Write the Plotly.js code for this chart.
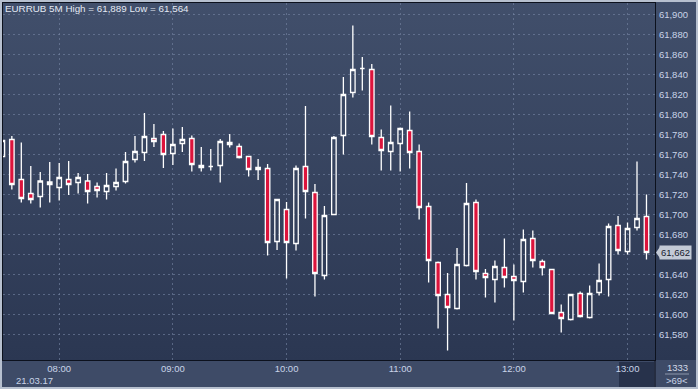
<!DOCTYPE html>
<html>
<head>
<meta charset="utf-8">
<script src="https://cdn.plot.ly/plotly-3.0.1.min.js"></script>
<style>
  html, body { margin: 0; padding: 0; background: #b7c0cf; }
  #wrap { position: relative; width: 698px; height: 389px; background: #b7c0cf; overflow: hidden; }
  #bg { position: absolute; left: 2px; top: 2px; width: 694px; height: 385px;
        background: linear-gradient(to bottom, #414f6b 0%, #2b3752 93%, #2b3752 100%); }
  #chart { position: absolute; left: 0; top: 0; width: 698px; height: 389px; }
</style>
</head>
<body>
<div id="wrap"><div id="bg"></div><div id="chart"></div></div>
<script>
// 5-minute candle times, 21.03.2017
const times = [
  "07:30","07:35","07:40","07:45","07:50","07:55",
  "08:00","08:05","08:10","08:15","08:20","08:25","08:30","08:35","08:40","08:45","08:50","08:55",
  "09:00","09:05","09:10","09:15","09:20","09:25","09:30","09:35","09:40","09:45","09:50","09:55",
  "10:00","10:05","10:10","10:15","10:20","10:25","10:30","10:35","10:40","10:45","10:50","10:55",
  "11:00","11:05","11:10","11:15","11:20","11:25","11:30","11:35","11:40","11:45","11:50","11:55",
  "12:00","12:05","12:10","12:15","12:20","12:25","12:30","12:35","12:40","12:45","12:50","12:55",
  "13:00","13:05","13:10"
];
const openVals = [
  61.758,61.775,61.735,61.721,61.718,61.7325,
  61.727,61.735,61.732,61.7335,61.728,61.723,61.728,61.733,61.755,61.762,61.776,61.780,
  61.761,61.771,61.776,61.749,61.748,61.749,61.772,61.768,61.758,61.747,61.746,61.673,
  61.705,61.671,61.748,61.722,61.639,61.700,61.779,61.822,61.846,61.845,61.777,61.763,
  61.771,61.784,61.763,61.708,61.652,61.620,61.606,61.649,61.712,61.641,61.635,61.647,
  61.638,61.633,61.676,61.653,61.645,61.602,61.595,61.621,61.597,61.622,61.635,61.689,
  61.663,61.687,61.698
];
const highVals = [
  61.778,61.7785,61.772,61.7485,61.7425,61.7525,
  61.7515,61.7535,61.7415,61.7405,61.732,61.7415,61.746,61.7625,61.7785,61.8015,61.7905,61.7835,
  61.786,61.7875,61.779,61.7675,61.7655,61.7755,61.7805,61.771,61.7585,61.7555,61.7505,61.7155,
  61.7125,61.749,61.8085,61.7305,61.7085,61.7785,61.8375,61.889,61.8575,61.8505,61.785,61.809,
  61.787,61.803,61.770,61.712,61.653,61.6415,61.6665,61.7315,61.715,61.6455,61.654,61.676,
  61.650,61.685,61.684,61.655,61.6455,61.610,61.6205,61.623,61.629,61.651,61.691,61.6985,
  61.692,61.753,61.720
];
const lowVals = [
  61.755,61.725,61.712,61.711,61.707,61.712,
  61.714,61.7195,61.721,61.711,61.717,61.715,61.724,61.731,61.752,61.7535,61.7675,61.7465,
  61.7495,61.7625,61.743,61.743,61.744,61.732,61.767,61.756,61.738,61.7345,61.659,61.6645,
  61.636,61.664,61.696,61.618,61.635,61.700,61.760,61.817,61.824,61.770,61.744,61.744,
  61.743,61.746,61.695,61.632,61.586,61.564,61.605,61.648,61.635,61.617,61.612,61.627,
  61.594,61.622,61.647,61.639,61.601,61.582,61.594,61.597,61.596,61.619,61.618,61.660,
  61.660,61.684,61.655
];
const closeVals = [
  61.774,61.730,61.716,61.715,61.7335,61.730,
  61.737,61.730,61.737,61.723,61.724,61.729,61.732,61.753,61.763,61.778,61.773,61.760,
  61.770,61.775,61.750,61.747,61.748,61.773,61.770,61.757,61.745,61.745,61.672,61.715,
  61.672,61.746,61.723,61.641,61.699,61.777,61.820,61.845,61.846,61.778,61.764,61.772,
  61.786,61.762,61.707,61.654,61.619,61.607,61.650,61.711,61.643,61.637,61.648,61.637,
  61.634,61.675,61.654,61.647,61.601,61.596,61.620,61.598,61.621,61.634,61.688,61.664,
  61.686,61.696,61.662
];
// price axis labels shown (61,660 is hidden under the last-price tag in the reference)
const priceTicks = [61.58,61.60,61.62,61.64,61.68,61.70,61.72,61.74,61.76,61.78,
                    61.80,61.82,61.84,61.86,61.88,61.90];
const priceGrid = [61.58,61.60,61.62,61.64,61.66,61.68,61.70,61.72,61.74,61.76,61.78,
                   61.80,61.82,61.84,61.86,61.88,61.90];
const chartTitle = "EURRUB 5M High = 61,889 Low = 61,564";
const dateLabel = "21.03.17";
const lastPriceLabel = "61,662";
const lastPrice = 61.662;
const counterTop = "1333";
const counterBottom = ">69<";

const day = "2017-03-21 ";
const xDates = times.map(t => day + t);

const px = 1 / 652;   // paper units per pixel horizontally (plot width 652)
const py = 1 / 357;   // paper units per pixel vertically (plot height 357)
const font = "Liberation Sans, Arial, sans-serif";
const gridCol = "rgba(120,135,165,0.6)";

const trace = {
  type: "candlestick",
  x: xDates,
  open: openVals, high: highVals, low: lowVals, close: closeVals,
  increasing: { line: { color: "#ffffff", width: 1.3 }, fillcolor: "rgba(0,0,0,0)" },
  decreasing: { line: { color: "#ffffff", width: 1.3 }, fillcolor: "#dc143c" },
  whiskerwidth: 0,
  hoverinfo: "skip",
  showlegend: false
};

// horizontal gridline at the hidden 61,660 level
const hiddenGrid = priceGrid.filter(v => priceTicks.indexOf(v) < 0).map(v => ({
  type: "line", xref: "paper", yref: "y", layer: "below",
  x0: 0, x1: 1, y0: v, y1: v,
  line: { color: gridCol, width: 1, dash: "2px,3px" }
}));

const layout = {
  width: 698, height: 389,
  margin: { l: 3, r: 43, t: 3, b: 29, pad: 0 },
  paper_bgcolor: "rgba(0,0,0,0)",
  plot_bgcolor: "rgba(0,0,0,0)",
  separators: ", ",
  boxgap: 0.32,
  font: { family: font, size: 9.5, color: "#c9d4e8" },
  xaxis: {
    type: "date",
    range: [day + "07:30:20", day + "13:14:30"],
    tick0: day + "08:00", dtick: 3600000,
    tickformat: "%H:%M",
    showgrid: true, gridcolor: gridCol, griddash: "2px,3px", gridwidth: 1,
    zeroline: false,
    showline: true, linecolor: "#0c111d", linewidth: 1, mirror: true,
    ticks: "", ticklabelstandoff: 0,
    tickfont: { family: font, size: 9.5, color: "#c9d4e8" },
    rangeslider: { visible: false },
    fixedrange: true
  },
  yaxis: {
    side: "right",
    range: [61.5545, 61.9115],
    tickmode: "array", tickvals: priceTicks,
    tickformat: ".3f",
    showgrid: true, gridcolor: gridCol, griddash: "2px,3px", gridwidth: 1,
    zeroline: false,
    showline: true, linecolor: "#0c111d", linewidth: 1, mirror: true,
    ticks: "", ticklabelstandoff: 1,
    tickfont: { family: font, size: 9.5, color: "#c9d4e8" },
    fixedrange: true
  },
  shapes: [
    // bottom time band
    { type: "rect", xref: "paper", yref: "paper", layer: "below",
      x0: -1 * px, x1: 693 * px, y0: -27 * py, y1: 0,
      fillcolor: "#3e4b67", line: { width: 0 } },
    // dark scroll box under last hour label
    { type: "rect", xref: "paper", yref: "paper", layer: "below",
      x0: 616 * px, x1: 651 * px, y0: -27 * py, y1: -2 * py,
      fillcolor: "#27324b", line: { width: 0 } },
    // right axis separator extended through band
    { type: "line", xref: "paper", yref: "paper",
      x0: 1, x1: 1, y0: -27 * py, y1: 0,
      line: { color: "#0c111d", width: 1 } },
    // separator under counter
    { type: "line", xref: "paper", yref: "paper",
      x0: 662 * px, x1: 686 * px, y0: -14 * py, y1: -14 * py,
      line: { color: "#8c98ad", width: 1 } },
    // last price arrow
    { type: "path", xref: "paper", yref: "y",
      path: "M " + (1 + 1 * px) + "," + lastPrice +
            " L " + (1 + 5 * px) + "," + (lastPrice + 0.0058) +
            " L " + (1 + 5 * px) + "," + (lastPrice - 0.0058) + " Z",
      fillcolor: "#c3cad6", line: { width: 0 } }
  ].concat(hiddenGrid),
  annotations: [
    { xref: "paper", yref: "paper", x: 0, y: 1 - 5.5 * py, xanchor: "left", yanchor: "middle",
      text: chartTitle, showarrow: false,
      font: { family: font, size: 9.8, color: "#e4eaf4" } },
    { xref: "paper", yref: "paper", x: 11 * px, y: -20 * py, xanchor: "left", yanchor: "middle",
      text: dateLabel, showarrow: false,
      font: { family: font, size: 9.5, color: "#c9d4e8" } },
    { xref: "paper", yref: "y", x: 1 + 4 * px, y: lastPrice, xanchor: "left", yanchor: "middle",
      text: lastPriceLabel, showarrow: false, bgcolor: "#c3cad6", borderpad: 1,
      font: { family: font, size: 9.5, color: "#18202e" } },
    { xref: "paper", yref: "paper", x: 674 * px, y: -7 * py, xanchor: "center", yanchor: "middle",
      text: counterTop, showarrow: false,
      font: { family: font, size: 9.5, color: "#d2dae8" } },
    { xref: "paper", yref: "paper", x: 674 * px, y: -20 * py, xanchor: "center", yanchor: "middle",
      text: counterBottom, showarrow: false,
      font: { family: font, size: 9.5, color: "#c9d4e8" } }
  ]
};

Plotly.newPlot("chart", [trace], layout, { displayModeBar: false, staticPlot: true });
</script>
</body>
</html>
